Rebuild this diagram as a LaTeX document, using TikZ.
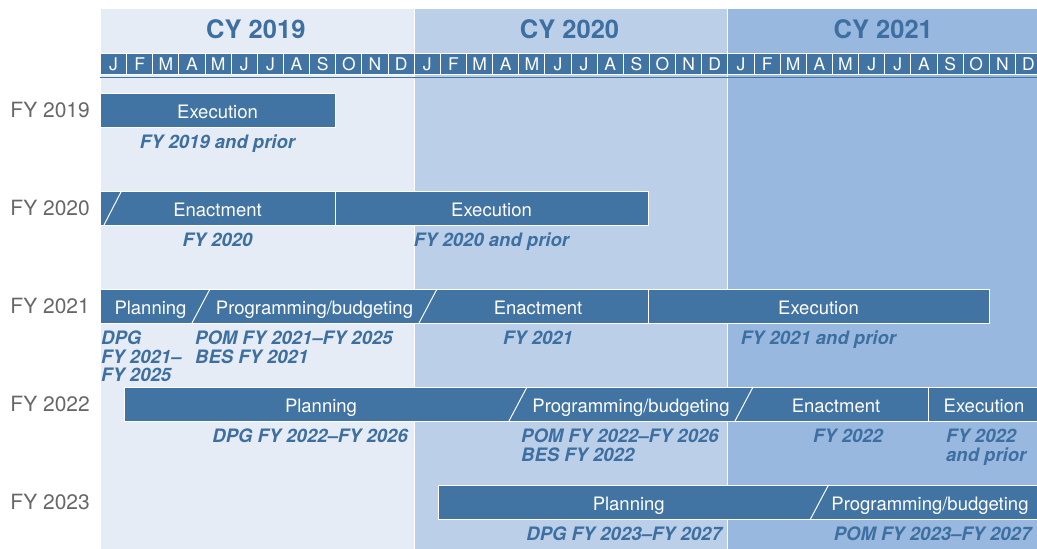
\documentclass[tikz,border=0pt]{standalone}
\usepackage{fontspec}
\setmainfont{TeX Gyre Heros}
\usetikzlibrary{positioning, calc}
\definecolor{barblue}{RGB}{65,115,163}
\definecolor{noteblue}{RGB}{62,111,161}
\definecolor{fygray}{RGB}{105,102,102}
\definecolor{band19}{RGB}{230,236,246}
\definecolor{band20}{RGB}{187,207,232}
\definecolor{band21}{RGB}{153,184,223}

\begin{document}
\begin{tikzpicture}[x=1pt, y=-1pt,
    bar/.style={fill=barblue, text=white, font=\fontsize{18.5}{18.5}\selectfont, text height=16.5pt, text depth=0pt,
        minimum height=34pt, inner sep=0pt, outer sep=0pt, anchor=north west},
    month/.style={draw=white, line width=1pt, fill=barblue, text=white, font=\fontsize{17.5}{18}\selectfont,
        text height=12.6pt, text depth=0pt, minimum width=26.14pt, minimum height=21pt, inner sep=0pt, anchor=north west},
    note/.style={font=\bfseries\itshape\fontsize{18.5}{18.5}\selectfont, text=noteblue, inner sep=0pt, align=left},
    fylabel/.style={font=\fontsize{21}{21}\selectfont, text=fygray, anchor=east, inner sep=0pt},
    divider/.style={draw=white, line width=1pt}]
    \path[use as bounding box, clip] (0,0) rectangle (1037,549);
    % calendar years
    \foreach \yr/\c [count=\i from 0] in {2019/band19, 2020/band20, 2021/band21} {
        \node (cy\yr) [fill=\c, draw=white, line width=1pt, minimum width=313.7pt, minimum height=545pt, inner sep=0pt, anchor=north west] at (100+313.7*\i, 8) {};
        \node (t\yr) [font=\bfseries\fontsize{25.5}{26}\selectfont, text=noteblue, inner sep=0pt] at (255.85+313.7*\i, 29.5) {CY \yr};
        \foreach \m [count=\k from 0] in {J,F,M,A,M,J,J,A,S,O,N,D}
            \node (m\yr-\k) [month] at (100+313.7*\i+26.14*\k, 53) {\m};
    }
    \draw [barblue, line width=1pt] (m2019-0.south west) ++(0,2) -- ++(950,0);
    % fiscal years
    \foreach \yr/\yy in {2019/110, 2020/208, 2021/306, 2022/404, 2023/502}
        \node (fy\yr) [fylabel] at (90,\yy) {FY \yr};
    \node (e19) [bar, minimum width=235pt] at (100,93) {Execution};
    \node (n20) [bar, minimum width=235pt] at (100,191) {Enactment};
    \node (e20) [bar, minimum width=313pt, right=0pt of n20] {Execution};
    \node (p21) [bar, minimum width=101pt] at (100,289) {Planning};
    \node (g21) [bar, minimum width=227pt, right=0pt of p21] {Programming/budgeting};
    \node (n21) [bar, minimum width=220pt, right=0pt of g21] {Enactment};
    \node (e21) [bar, minimum width=341pt, right=0pt of n21] {Execution};
    \node (p22) [bar, minimum width=394pt] at (124,387) {Planning};
    \node (g22) [bar, minimum width=226pt, right=0pt of p22] {Programming/budgeting};
    \node (n22) [bar, minimum width=184pt, right=0pt of g22] {Enactment};
    \node (e22) [bar, minimum width=112pt, right=0pt of n22] {Execution};
    \node (p23) [bar, minimum width=381.5pt] at (438,485) {Planning};
    \node (g23) [bar, minimum width=221pt, right=0pt of p23] {Programming/budgeting};
    % outlines, breaks and slashes
    \foreach \a/\b in {e19/e19, n20/e20, p21/e21, p22/e22, p23/g23}
        \draw [divider] (\a.north west) rectangle (\b.south east);
    \foreach \s in {e20, e21, e22}
        \draw [divider] (\s.north west) -- (\s.south west);
    \foreach \s in {g21, n21, g22, n22, g23}
        \draw [divider] ($(\s.south west)+(-9,0)$) -- ($(\s.north west)+(9,0)$);
    \draw [divider] ($(n20.south west)+(4,0)$) -- ($(n20.north west)+(21.5,0)$);
    % documents
    \node (d19) [note, below=8pt of e19] {FY 2019 and prior};
    \node (d20a) [note, below=8pt of n20] {FY 2020};
    \node (d20b) [note, below=8pt of e20] {FY 2020 and prior};
    \node (d21a) [note, below right=8pt and 1pt of p21.south west] {DPG\\FY 2021--\\FY 2025};
    \node (d21b) [note, below right=8pt and -6pt of g21.south west] {POM FY 2021--FY 2025\\BES FY 2021};
    \node (d21c) [note, below=8pt of n21] {FY 2021};
    \node (d21d) [note, below=8pt of e21] {FY 2021 and prior};
    \node (d22a) [note, below left=8pt and 110pt of p22.south east] {DPG FY 2022--FY 2026};
    \node (d22b) [note, below right=8pt and 3pt of g22.south west] {POM FY 2022--FY 2026\\BES FY 2022};
    \node (d22c) [note, below=8pt of n22, xshift=12pt] {FY 2022};
    \node (d22d) [note, below right=8pt and 18pt of e22.south west] {FY 2022\\and prior};
    \node (d23a) [note, below left=8pt and 97.5pt of p23.south east] {DPG FY 2023--FY 2027};
    \node (d23b) [note, below left=8pt and 9pt of g23.south east] {POM FY 2023--FY 2027};
\end{tikzpicture}
\end{document}
